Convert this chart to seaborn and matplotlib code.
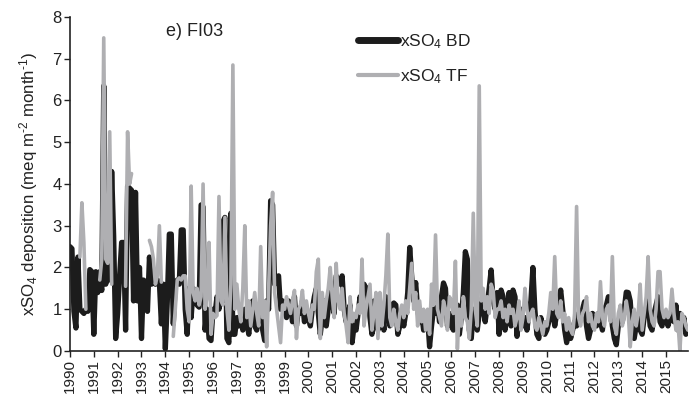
import numpy as np
import pandas as pd
import matplotlib
matplotlib.use("Agg")
import matplotlib.pyplot as plt
from matplotlib.lines import Line2D
import seaborn as sns

years = list(range(1990, 2016))
year_labels = [str(y) for y in years]
y_ticks = [0, 1, 2, 3, 4, 5, 6, 7, 8]
nan = np.nan

# Monthly xSO4 bulk deposition (BD), meq m-2 month-1, Jan..Dec per year
bd_monthly = {
    1990: [2.5, 2.45, 0.95, 0.55, 2.25, 1.0, 0.95, 0.9, 1.0, 0.95, 1.95, 1.9],
    1991: [0.4, 1.9, 1.4, 1.9, 1.45, 6.35, 1.6, 2.1, 1.7, 4.3, 2.75, 0.3],
    1992: [0.9, 1.8, 2.6, 2.6, 0.5, 3.95, 3.9, 3.85, 1.2, 3.8, 1.2, 2.0],
    1993: [0.3, 1.7, 1.65, 0.95, 2.25, 1.6, 1.7, 1.6, 1.7, 1.65, 0.65, 1.6],
    1994: [0.05, 1.2, 2.8, 2.8, 0.65, 1.6, 1.7, 1.6, 2.9, 2.9, 1.0, 0.4],
    1995: [1.5, 0.8, 1.5, 1.25, 1.1, 1.05, 3.5, 3.45, 0.5, 1.0, 0.3, 0.25],
    1996: [1.0, 0.9, 1.3, 1.0, 1.4, 3.1, 3.2, 0.3, 0.2, 3.3, 0.4, 0.4],
    1997: [0.8, 0.6, 0.9, 0.5, 1.0, 0.7, 0.4, 0.9, 1.2, 0.6, 0.5, 0.8],
    1998: [1.0, 0.5, 0.25, 1.2, 1.0, 3.6, 3.5, 1.6, 1.7, 1.8, 1.0, 1.2],
    1999: [1.0, 0.8, 1.2, 1.1, 0.7, 1.3, 0.6, 1.0, 0.9, 1.2, 0.7, 0.9],
    2000: [0.8, 0.6, 1.0, 1.3, 1.5, 0.9, 0.4, 0.8, 1.2, 0.6, 1.0, 1.4],
    2001: [1.2, 0.9, 1.8, 1.7, 1.6, 1.8, 1.0, 0.7, 0.9, 1.1, 0.2, 0.6],
    2002: [0.5, 0.9, 1.3, 1.0, 1.6, 1.5, 1.5, 0.8, 0.4, 1.2, 0.8, 0.5],
    2003: [0.7, 1.0, 0.5, 1.3, 1.2, 0.6, 1.1, 1.15, 1.1, 0.4, 0.6, 0.9],
    2004: [0.6, 0.9, 1.4, 2.48, 1.8, 1.2, 1.64, 1.0, 0.7, 0.9, 0.5, 0.8],
    2005: [0.8, 0.1, 0.6, 1.0, 0.9, 1.2, 0.7, 1.3, 1.63, 1.5, 0.6, 0.9],
    2006: [0.6, 0.5, 0.9, 1.1, 0.4, 0.8, 1.4, 2.38, 2.2, 0.5, 0.3, 1.0],
    2007: [0.8, 0.5, 0.9, 1.2, 1.0, 0.7, 1.1, 1.5, 1.94, 1.2, 1.0, 1.4],
    2008: [0.4, 1.46, 1.3, 0.5, 0.9, 1.4, 0.6, 1.46, 1.3, 0.35, 0.8, 1.0],
    2009: [0.6, 0.8, 0.5, 0.9, 1.2, 2.0, 1.0, 0.4, 0.3, 0.8, 0.5, 0.4],
    2010: [0.5, 0.7, 0.9, 1.0, 0.6, 0.9, 1.2, 1.46, 1.0, 0.5, 0.2, 0.6],
    2011: [0.3, 0.5, 0.7, 0.6, 0.9, 0.8, 1.0, 1.18, 0.6, 0.3, 0.5, 0.9],
    2012: [0.8, 0.6, 0.9, 0.7, 0.5, 1.0, 1.1, 1.3, 1.2, 0.6, 0.3, 0.15],
    2013: [0.6, 0.9, 0.7, 1.0, 1.41, 1.4, 1.2, 0.5, 0.3, 0.6, 0.8, 0.5],
    2014: [0.4, 0.8, 1.0, 1.2, 0.6, 0.5, 0.9, 1.1, 1.3, 0.7, 0.6, 0.9],
    2015: [0.9, 0.6, 0.8, 1.0, 0.7, 1.1, 0.5, 0.9, 0.6, 0.8, 0.4, 0.5],
}

# Monthly xSO4 throughfall (TF), meq m-2 month-1; gaps where not sampled
tf_monthly = {
    1990: [nan, nan, nan, nan, nan, 2.25, 3.55, 2.6, 1.0, nan, nan, nan],
    1991: [nan, nan, nan, 1.7, 2.2, 7.5, 2.2, 2.1, 5.25, 1.6, nan, nan],
    1992: [nan, nan, nan, nan, 1.55, 5.25, 4.0, 4.25, nan, nan, nan, nan],
    1993: [nan, nan, nan, nan, 2.65, 2.5, 2.2, 1.6, 1.8, 3.0, 1.65, nan],
    1994: [nan, nan, nan, nan, 0.35, 1.0, 1.7, 1.75, 1.7, 1.8, 1.8, 1.0],
    1995: [0.7, 3.95, 1.4, 1.2, 1.5, 1.1, 1.3, 4.0, 1.0, 1.3, 2.6, 0.4],
    1996: [0.9, 0.8, 0.85, 3.7, 1.2, 1.1, 3.2, 1.0, 0.5, 1.6, 6.85, 1.0],
    1997: [1.6, 1.0, 0.7, 1.5, 3.0, 0.8, 1.2, 0.6, 1.0, 1.4, 0.9, 0.6],
    1998: [2.5, 0.8, 1.2, 0.1, 1.5, 3.0, 3.8, 1.4, 1.0, 0.6, 0.2, 1.1],
    1999: [1.0, 1.3, 1.1, 0.9, 1.2, 1.45, 0.3, 1.0, 1.1, 1.45, 0.9, 1.2],
    2000: [0.9, 0.7, 1.1, 1.0, 1.9, 2.2, 0.3, 1.4, 0.8, 1.2, 1.5, 2.0],
    2001: [1.3, 0.8, 2.1, 1.2, 1.0, 1.5, 0.9, 0.6, 0.2, 1.3, 0.7, 0.9],
    2002: [0.8, 1.1, 0.9, 2.2, 0.6, 1.0, 1.3, 1.6, 0.5, 0.9, 1.4, 0.3],
    2003: [1.4, 0.6, 1.1, 1.8, 2.8, 0.8, 0.6, 1.0, 0.7, 0.5, 0.9, 1.1],
    2004: [0.8, 1.2, 0.9, 1.5, 2.1, 1.0, 1.4, 0.6, 1.2, 0.7, 1.0, 0.5],
    2005: [1.0, 0.4, 1.6, 1.1, 2.78, 1.0, 0.8, 0.6, 1.2, 1.0, 0.5, 1.3],
    2006: [1.2, 0.9, 2.15, 0.05, 1.0, 0.6, 1.3, 0.8, 0.7, 0.3, 1.0, 3.3],
    2007: [1.0, 0.6, 6.35, 1.2, 1.5, 1.0, 1.3, 0.9, 1.6, 1.45, 0.8, 1.0],
    2008: [1.0, 1.2, 0.8, 1.0, 0.7, 1.1, 0.9, 1.0, 0.6, 0.8, 1.2, 0.5],
    2009: [0.8, 1.5, 1.0, 0.7, 0.9, 1.0, 0.6, 0.5, 0.8, 0.6, 0.4, 0.7],
    2010: [0.6, 0.9, 1.4, 1.0, 2.26, 0.9, 0.8, 1.2, 0.7, 0.9, 0.5, 0.8],
    2011: [0.5, 0.4, 0.9, 3.46, 0.8, 0.6, 0.9, 1.0, 1.3, 0.7, 0.9, 0.6],
    2012: [0.5, 0.9, 0.7, 1.66, 0.8, 0.6, 1.0, 1.1, 0.7, 2.26, 0.6, 0.4],
    2013: [0.9, 1.1, 0.6, 0.8, 1.2, 0.9, 0.1, 0.7, 1.0, 0.6, 0.9, 1.6],
    2014: [0.5, 0.9, 1.3, 2.26, 1.0, 0.7, 0.6, 1.0, 1.9, 1.9, 1.0, 0.8],
    2015: [1.0, 0.8, 0.9, 1.48, 0.9, 0.5, 0.7, 0.0, 0.9, 0.8, 0.6, 0.5],
}

# Long-format table: decimal time, both series, and a segment id so
# throughfall gaps stay unconnected.
rows = []
for y in years:
    for m in range(12):
        rows.append({"t": y + m / 12.0,
                     "BD": bd_monthly[y][m],
                     "TF": tf_monthly[y][m]})
df = pd.DataFrame(rows)
df["seg"] = df["TF"].isna().cumsum()
tf = df.dropna(subset=["TF"])

sns.set_style("ticks")
plt.rcParams["font.family"] = ["Liberation Sans", "DejaVu Sans"]
plt.rcParams["mathtext.fontset"] = "custom"
plt.rcParams["mathtext.rm"] = "Liberation Sans"
plt.rcParams["mathtext.it"] = "Liberation Sans:italic"

fig = plt.figure(figsize=(6.9, 3.99), dpi=100)
ax = fig.add_axes([0.1014, 0.1203, 0.8956, 0.8371])

bd_color = "#1c1c1c"
tf_color = "#afafb2"

sns.lineplot(data=df, x="t", y="BD", ax=ax, color=bd_color, lw=3.8,
             solid_joinstyle="round", solid_capstyle="round")
sns.lineplot(data=tf, x="t", y="TF", units="seg", estimator=None, ax=ax,
             color=tf_color, lw=2.6,
             solid_joinstyle="round", solid_capstyle="round")

ax.set_xlim(1990, 2015.92)
ax.set_ylim(0, 8)
ax.set_xticks(years)
ax.set_xticklabels(year_labels, rotation=90, fontsize=11, color="#222222")
ax.set_yticks(y_ticks)
ax.set_yticklabels([str(v) for v in y_ticks], fontsize=12, color="#222222")
ax.tick_params(axis="both", direction="out", length=4, width=1.0,
               color="#222222", pad=2)
for side in ("top", "right"):
    ax.spines[side].set_visible(False)
for side in ("left", "bottom"):
    ax.spines[side].set_linewidth(1.2)
    ax.spines[side].set_color("#222222")

ax.set_xlabel("")
ax.set_ylabel(r"xSO$_4$ deposition (meq m$^{\text{-2}}$ month$^{\text{-1}}$)",
              fontsize=12.2, color="#222222", labelpad=9)

ax.text(0.156, 0.958, "e) FI03", transform=ax.transAxes, fontsize=13,
        color="#222222", va="center", ha="left")

handles = [Line2D([], [], color=bd_color, lw=5, solid_capstyle="round"),
           Line2D([], [], color=tf_color, lw=3, solid_capstyle="round")]
ax.legend(handles, ["xSO$_4$ BD", "xSO$_4$ TF"], loc="upper left",
          bbox_to_anchor=(0.455, 0.975), frameon=False, fontsize=12.5,
          handlelength=2.3, handletextpad=0.1, labelspacing=0.95,
          borderaxespad=0, labelcolor="#222222")

fig.savefig("out.png", dpi=100)
